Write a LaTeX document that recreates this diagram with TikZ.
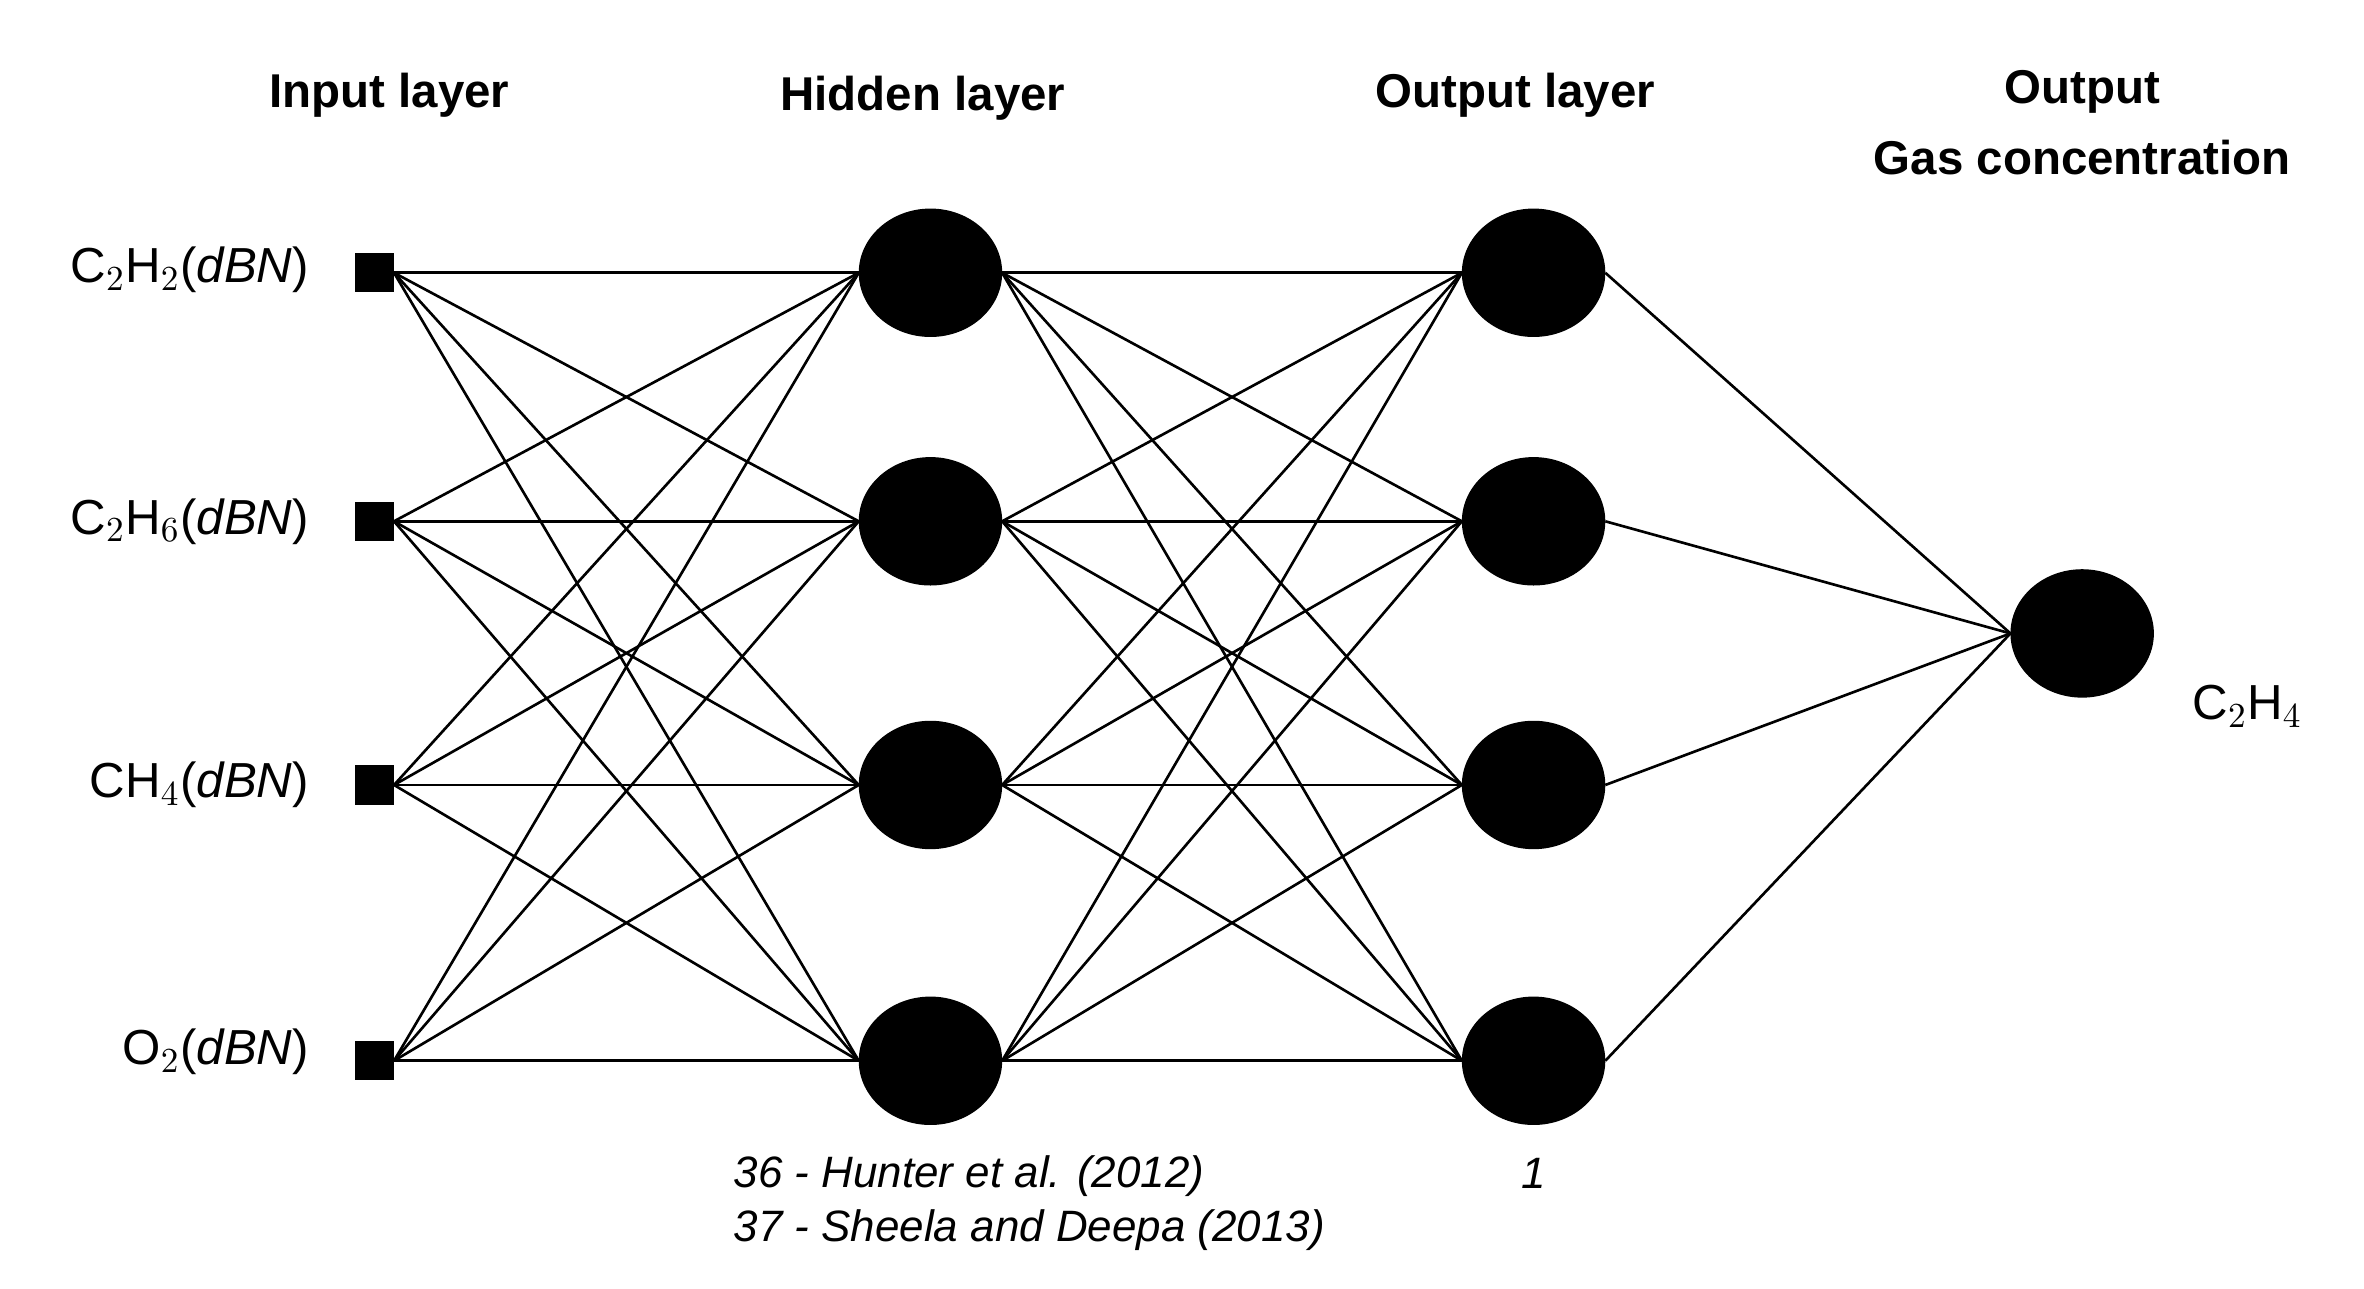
\documentclass[tikz,border=0pt]{standalone}
\usepackage{fontspec}
\usetikzlibrary{shapes.geometric}
\setmainfont{Liberation Sans}
\begin{document}
\begin{tikzpicture}[x=0.01515cm,y=-0.01515cm,
  inp/.style={fill=black,draw=black,minimum size=0.38cm,inner sep=0,rectangle},
  neu/.style={fill=black,draw=black,ellipse,minimum width=1.42cm,minimum height=1.27cm,inner sep=0},
  lbl/.style={font=\fontsize{14}{16}\selectfont},
  ttl/.style={font=\fontsize{13.5}{20}\selectfont\bfseries,align=center},
  cit/.style={font=\fontsize{12.5}{15}\selectfont\itshape},
  con/.style={line width=0.75pt}]
\useasboundingbox (0,0) rectangle (1560,850);
\foreach \i/\y in {1/180,2/344,3/518,4/700}{
  \node[inp] (i\i) at (247,\y) {};
  \node[neu] (h\i) at (614,\y) {};
  \node[neu] (o\i) at (1012,\y) {};
}
\node[neu] (f) at (1374,418) {};
\foreach \a in {1,...,4}{\foreach \b in {1,...,4}{
  \draw[con] (i\a.east) -- (h\b.west);
  \draw[con] (h\a.east) -- (o\b.west);}
  \draw[con] (o\a.east) -- (f.west);}
\node[lbl,anchor=east] (l1) at (212,178) {C$_2$H$_2$(\textit{dBN})};
\node[lbl,anchor=east] (l2) at (212,344) {C$_2$H$_6$(\textit{dBN})};
\node[lbl,anchor=east] (l3) at (212,518) {CH$_4$(\textit{dBN})};
\node[lbl,anchor=east] (l4) at (212,694) {O$_2$(\textit{dBN})};
\node[lbl] (lo) at (1483,466) {C$_2$H$_4$};
\node[ttl] (t1) at (257,63) {Input layer};
\node[ttl] (t2) at (609,65) {Hidden layer};
\node[ttl] (t3) at (1000,63) {Output layer};
\node[ttl] (t4) at (1374,81) {Output\\Gas concentration};
\node[cit,anchor=west] (c1) at (476,776) {36 - Hunter et al. (2012)};
\node[cit,anchor=west] (c2) at (476,812) {37 - Sheela and Deepa (2013)};
\node[cit] (one) at (1012,774) {1};
\end{tikzpicture}
\end{document}
